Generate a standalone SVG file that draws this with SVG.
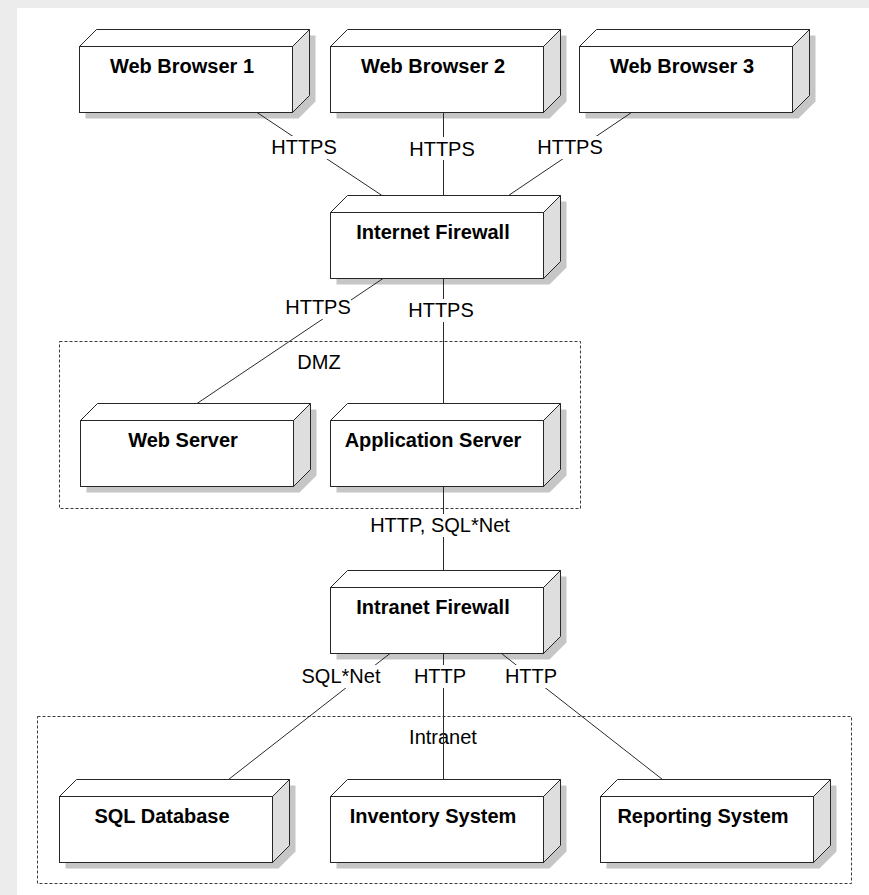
<svg xmlns="http://www.w3.org/2000/svg" xmlns:xlink="http://www.w3.org/1999/xlink" width="869" height="895" viewBox="0 0 869 895">
  <style>
    .node-label { font-family: "Liberation Sans", Arial, sans-serif; font-size: 20px; font-weight: bold; fill: #000; text-anchor: middle; }
    .edge-label { font-family: "Liberation Sans", Arial, sans-serif; font-size: 20px; fill: #000; text-anchor: middle; }
    .group-label { font-family: "Liberation Sans", Arial, sans-serif; font-size: 20px; fill: #000; text-anchor: middle; }
    .edge { stroke: #2a2a2a; stroke-width: 1; fill: none; }
    .label-bg { fill: #fff; }
    .group { fill: none; stroke: #3a3a3a; stroke-width: 1; stroke-dasharray: 3 2; }
  </style>
  <defs>
    <!-- 3D node box: front face 213x66 at origin, depth 17 -->
    <g id="node-box">
      <polygon points="6,6 23,-11 236,-11 236,55 219,72 6,72" fill="#c6c6c6"/>
      <polygon points="213,0 230,-17 230,49 213,66" fill="#dedede" stroke="#262626" stroke-width="1" stroke-linejoin="round"/>
      <polygon points="0,0 17,-17 230,-17 213,0" fill="#fff" stroke="#262626" stroke-width="1" stroke-linejoin="round"/>
      <rect x="0" y="0" width="213" height="66" fill="#fff" stroke="#262626" stroke-width="1"/>
    </g>
  </defs>

  <!-- page -->
  <rect x="0" y="0" width="869" height="895" fill="#ececec"/>
  <rect x="17" y="8" width="852" height="887" fill="#fff"/>

  <!-- groups -->
  <g id="dmz">
    <rect class="group" x="59.5" y="341.5" width="521" height="167"/>
    <text class="group-label" x="319" y="369">DMZ</text>
  </g>
  <g id="intranet">
    <rect class="group" x="37.5" y="716.5" width="814" height="167"/>
    <text class="group-label" x="443" y="744">Intranet</text>
  </g>

  <!-- nodes -->
  <g id="web-browser-1" transform="translate(79.5,46.5)">
    <use xlink:href="#node-box"/>
    <text class="node-label" x="102.5" y="26">Web Browser 1</text>
  </g>
  <g id="web-browser-2" transform="translate(330.5,46.5)">
    <use xlink:href="#node-box"/>
    <text class="node-label" x="102.5" y="26">Web Browser 2</text>
  </g>
  <g id="web-browser-3" transform="translate(579.5,46.5)">
    <use xlink:href="#node-box"/>
    <text class="node-label" x="102.5" y="26">Web Browser 3</text>
  </g>
  <g id="internet-firewall" transform="translate(330.5,212.5)">
    <use xlink:href="#node-box"/>
    <text class="node-label" x="102.5" y="26">Internet Firewall</text>
  </g>
  <g id="web-server" transform="translate(80.5,420.5)">
    <use xlink:href="#node-box"/>
    <text class="node-label" x="102.5" y="26">Web Server</text>
  </g>
  <g id="application-server" transform="translate(330.5,420.5)">
    <use xlink:href="#node-box"/>
    <text class="node-label" x="102.5" y="26">Application Server</text>
  </g>
  <g id="intranet-firewall" transform="translate(330.5,587.5)">
    <use xlink:href="#node-box"/>
    <text class="node-label" x="102.5" y="26">Intranet Firewall</text>
  </g>
  <g id="sql-database" transform="translate(59.5,796.5)">
    <use xlink:href="#node-box"/>
    <text class="node-label" x="102.5" y="26">SQL Database</text>
  </g>
  <g id="inventory-system" transform="translate(330.5,796.5)">
    <use xlink:href="#node-box"/>
    <text class="node-label" x="102.5" y="26">Inventory System</text>
  </g>
  <g id="reporting-system" transform="translate(600.5,796.5)">
    <use xlink:href="#node-box"/>
    <text class="node-label" x="102.5" y="26">Reporting System</text>
  </g>

  <!-- connectors -->
  <g id="connectors">
    <line class="edge" x1="257" y1="112.5" x2="382" y2="195.5"/>
    <line class="edge" x1="443.5" y1="112.5" x2="443.5" y2="195.5"/>
    <line class="edge" x1="631.5" y1="112.5" x2="508.5" y2="195.5"/>
    <line class="edge" x1="383" y1="278.5" x2="197" y2="403.5"/>
    <line class="edge" x1="443.5" y1="278.5" x2="443.5" y2="403.5"/>
    <line class="edge" x1="443.5" y1="486.5" x2="443.5" y2="570.5"/>
    <line class="edge" x1="390" y1="653.5" x2="228.5" y2="779.5"/>
    <line class="edge" x1="443.5" y1="653.5" x2="443.5" y2="779.5"/>
    <line class="edge" x1="501.5" y1="653.5" x2="662.5" y2="779.5"/>

    <rect class="label-bg" x="271" y="136" width="66" height="23"/>
    <text class="edge-label" x="304" y="154">HTTPS</text>
    <rect class="label-bg" x="409" y="137" width="66" height="23"/>
    <text class="edge-label" x="442" y="156">HTTPS</text>
    <rect class="label-bg" x="537" y="136" width="66" height="23"/>
    <text class="edge-label" x="570" y="154">HTTPS</text>

    <rect class="label-bg" x="285" y="296" width="66" height="23"/>
    <text class="edge-label" x="318" y="314">HTTPS</text>
    <rect class="label-bg" x="408" y="299" width="66" height="23"/>
    <text class="edge-label" x="441" y="317">HTTPS</text>

    <rect class="label-bg" x="366" y="514" width="148" height="23"/>
    <text class="edge-label" x="440" y="532">HTTP, SQL*Net</text>

    <rect class="label-bg" x="299" y="665" width="84" height="23"/>
    <text class="edge-label" x="341" y="683">SQL*Net</text>
    <rect class="label-bg" x="413" y="665" width="54" height="23"/>
    <text class="edge-label" x="440" y="683">HTTP</text>
    <rect class="label-bg" x="505" y="665" width="54" height="23"/>
    <text class="edge-label" x="531" y="683">HTTP</text>
  </g>
</svg>
